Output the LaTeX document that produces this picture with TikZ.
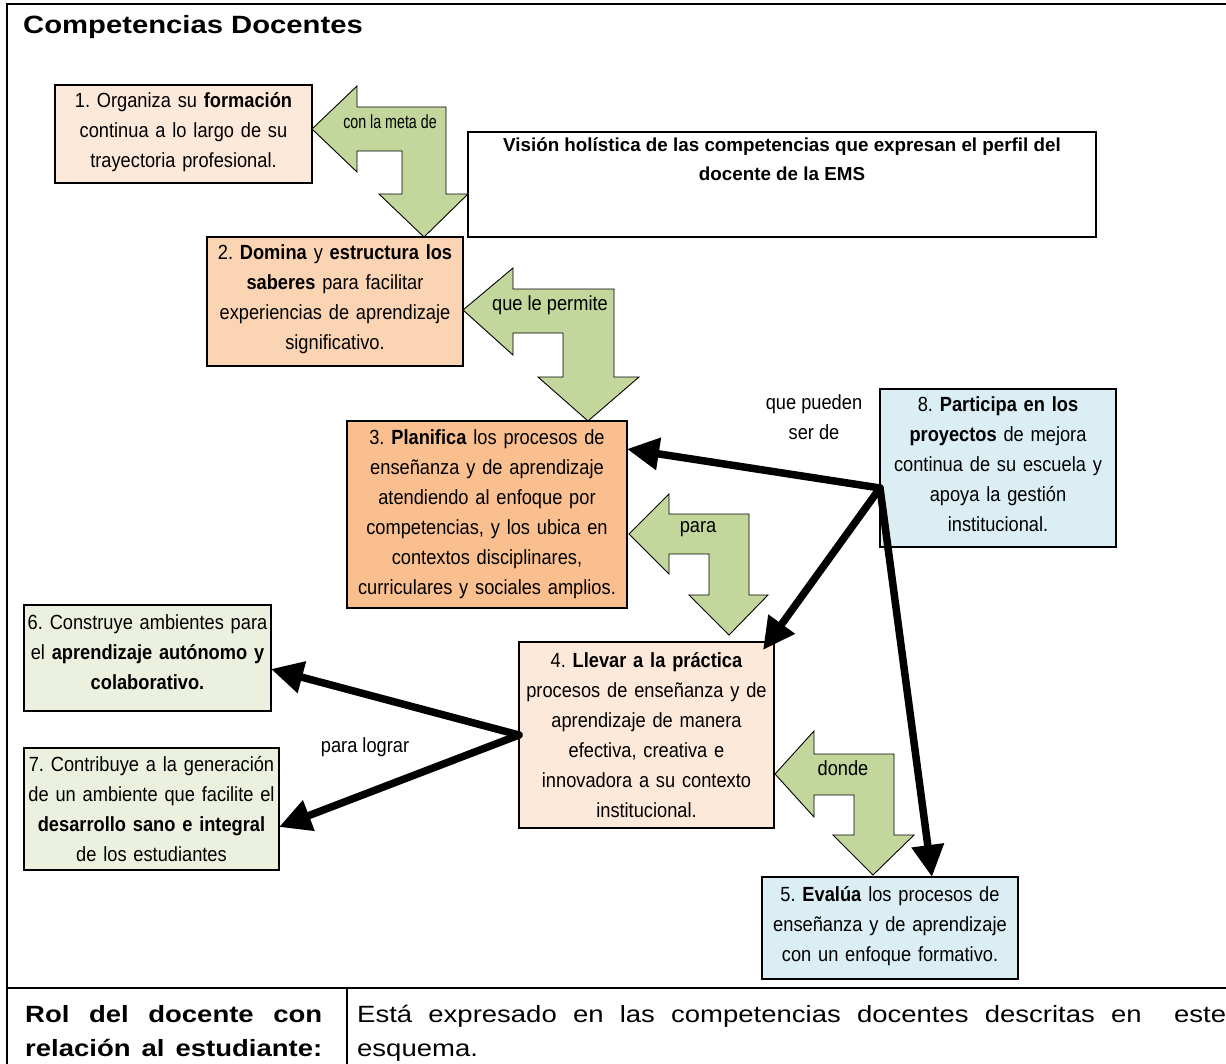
\documentclass[tikz,border=0pt]{standalone}
\usepackage{fontspec}
\setmainfont{Liberation Sans}
\newfontfamily\bxf[FakeStretch=0.89]{Liberation Sans}
\newfontfamily\widef[FakeStretch=1.17]{Liberation Sans}
\newfontfamily\condf[FakeStretch=0.75]{Liberation Sans}
\usetikzlibrary{arrows.meta,calc}
\definecolor{peachA}{HTML}{FDE9D9}
\definecolor{peachB}{HTML}{FBD4B4}
\definecolor{peachC}{HTML}{FABF8F}
\definecolor{blueA}{HTML}{DBEEF3}
\definecolor{greenA}{HTML}{EBF1DE}
\definecolor{greenB}{HTML}{C3D69B}
\frenchspacing
\begin{document}
\begin{tikzpicture}[x=1pt,y=-1pt,
  box/.style={draw=black, line width=1.2pt, anchor=north west, inner sep=0pt, outer sep=0pt, align=center, font=\bxf\fontsize{20.5}{30}\selectfont},
  garrow/.style={fill=greenB, draw=black, line width=0.9pt, line join=miter},
  blk/.style={line width=7.5pt, line cap=round, -{Triangle[length=32pt,width=31pt]}},
  lbl/.style={font=\bxf\fontsize{20.5}{30}\selectfont, inner sep=0pt, align=center},
  frameline/.style={line width=2.5pt}
]
\useasboundingbox (0,0) rectangle (1226,1063);
\fill[white] (0,0) rectangle (1226,1063);
\clip (0,0) rectangle (1226,1063);

% frame
\draw[frameline] (1240,4) -- (7,4) -- (7,1075);
\draw[frameline] (7,988) -- (1240,988);
\draw[frameline] (347,988) -- (347,1075);

\node[anchor=base west, inner sep=0pt, font=\widef\bfseries\fontsize{25}{30}\selectfont] (title) at (23,33) {Competencias Docentes};

% green arrows
\draw[garrow] (312,129) -- (357,86) -- (357,107) -- (446,107) -- (446,194) -- (468,194) -- (424,237) -- (379,194) -- (402,194) -- (402,151) -- (357,151) -- (357,172) -- cycle;
\draw[garrow] (463,310) -- (513,268) -- (513,289) -- (614,289) -- (614,377) -- (639,377) -- (588,421) -- (538,377) -- (563,377) -- (563,333) -- (513,333) -- (513,355) -- cycle;
\draw[garrow] (629,534) -- (669,494) -- (669,514) -- (749,514) -- (749,595) -- (768,595) -- (729,635) -- (689,595) -- (709,595) -- (709,554) -- (669,554) -- (669,574) -- cycle;
\draw[garrow] (775,774) -- (814,731) -- (814,754) -- (894,754) -- (894,835) -- (914,835) -- (873,875) -- (833,835) -- (854,835) -- (854,795) -- (814,795) -- (814,817) -- cycle;

% boxes
\node[box, fill=peachA, minimum width=257pt, minimum height=98pt, text width=252pt] (b1) at (55,85)
  {1. Organiza su \textbf{formación}\\continua a lo largo de su\\trayectoria profesional.\\[-22pt]\mbox{}};
\node[box, fill=white, minimum width=628pt, minimum height=105pt] (vis) at (468,132) {};
\node[anchor=north, inner sep=0pt, align=center, font=\bfseries\fontsize{18.8}{29}\selectfont] (vistxt) at ([yshift=-6pt]vis.north)
  {Visión holística de las competencias que expresan el perfil del\\docente de la EMS};
\node[box, fill=peachB, minimum width=256pt, minimum height=129pt, text width=250pt] (b2) at (207,237)
  {2. \textbf{Domina} y \textbf{estructura los}\\\textbf{saberes} para facilitar\\experiencias de aprendizaje\\significativo.\\[-22pt]\mbox{}};
\node[box, fill=peachC, minimum width=280pt, minimum height=187pt, text width=276pt] (b3) at (347,421)
  {3. \textbf{Planifica} los procesos de\\enseñanza y de aprendizaje\\atendiendo al enfoque por\\competencias, y los ubica en\\contextos disciplinares,\\curriculares y sociales amplios.};
\node[box, fill=blueA, minimum width=236pt, minimum height=158pt, text width=232pt] (b8) at (880,389)
  {8. \textbf{Participa en los}\\\textbf{proyectos} de mejora\\continua de su escuela y\\apoya la gestión\\institucional.\\[-22pt]\mbox{}};
\node[box, fill=peachA, minimum width=255pt, minimum height=186pt, text width=251pt] (b4) at (519,642)
  {4. \textbf{Llevar a la práctica}\\procesos de enseñanza y de\\aprendizaje de manera\\efectiva, creativa e\\innovadora a su contexto\\institucional.};
\node[box, fill=blueA, minimum width=256pt, minimum height=102pt, text width=252pt] (b5) at (762,877)
  {5. \textbf{Evalúa} los procesos de\\enseñanza y de aprendizaje\\con un enfoque formativo.\\[-22pt]\mbox{}};
\node[box, fill=greenA, minimum width=247pt, minimum height=106pt, text width=245pt] (b6) at (24,605)
  {6. Construye ambientes para\\el \textbf{aprendizaje autónomo y}\\\textbf{colaborativo.}\\[-18pt]\mbox{}};
\node[box, fill=greenA, minimum width=255pt, minimum height=122pt, text width=253pt] (b7) at (24,748)
  {7. Contribuye a la generación\\de un ambiente que facilite el\\\textbf{desarrollo sano e integral}\\de los estudiantes};

% labels
\node[lbl, font=\condf\fontsize{19}{19}\selectfont] (lmeta) at (390,122) {con la meta de};
\node[lbl] (lperm) at (550,305) {que le permite};
\node[lbl] (lpara) at (698,529) {para};
\node[lbl] (ldonde) at (843,768) {donde};
\node[lbl] (lpued) at (814,417) {que pueden\\ser de};
\node[lbl] (llog) at (365,747) {para lograr};

% black arrows
\coordinate (o8) at ([yshift=-99pt]b8.north west);
\draw[blk] (o8) -- ([yshift=-28pt]b3.north east);
\draw[blk] (o8) -- ([xshift=-11pt,yshift=-8pt]b4.north east);
\draw[blk] (o8) -- ([xshift=42pt]b5.north);
\draw[blk] (b4.west) -- ([yshift=-11pt]b6.east);
\draw[blk] (b4.west) -- ([yshift=-18pt]b7.east);

% bottom row
\node[anchor=base west, inner sep=0pt, font=\widef\bfseries\fontsize{23.5}{30}\selectfont] (rol1) at (25,1022) {\makebox[297pt][s]{Rol del docente con}};
\node[anchor=base west, inner sep=0pt, font=\widef\bfseries\fontsize{23.5}{30}\selectfont] (rol2) at (25,1056) {\makebox[297pt][s]{relación al estudiante:}};
\node[anchor=base west, inner sep=0pt, font=\widef\fontsize{23.5}{30}\selectfont] (est1) at (357,1022) {\makebox[869pt][s]{Está expresado en las competencias docentes descritas en\ \ este}};
\node[anchor=base west, inner sep=0pt, font=\widef\fontsize{23.5}{30}\selectfont] (est2) at (357,1056) {esquema.};
\end{tikzpicture}
\end{document}
